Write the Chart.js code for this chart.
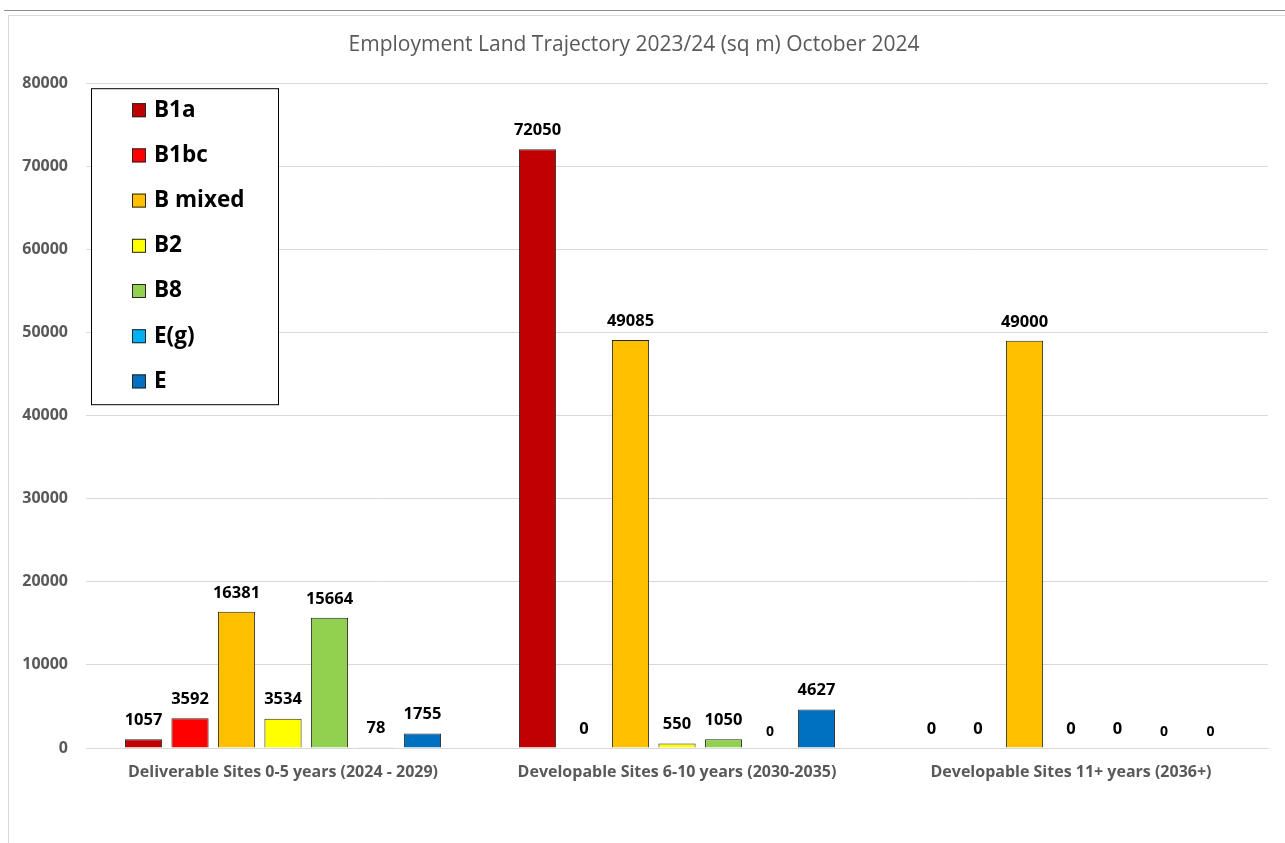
<!DOCTYPE html>
<html>
<head>
<meta charset="utf-8">
<script src="https://cdn.jsdelivr.net/npm/chart.js@4.4.1/dist/chart.umd.min.js"></script>
<style>
  html, body { margin: 0; padding: 0; background: #ffffff; width: 1285px; height: 843px; overflow: hidden; }
  #topline { position: absolute; left: 4px; top: 10px; width: 1281px; height: 0; border-top: 1px solid #8c8c8c; }
  #frame { position: absolute; left: 8px; top: 15px; width: 1290px; height: 840px; border: 1px solid #d9d9d9; box-sizing: border-box; }
  #wrap { position: absolute; left: 0; top: 0; width: 1285px; height: 843px; }
</style>
</head>
<body>
<div id="topline"></div>
<div id="frame"></div>
<div id="wrap"><canvas id="c" width="1285" height="843"></canvas></div>
<script>
const categories = [
  'Deliverable Sites 0-5 years (2024 - 2029)',
  'Developable Sites 6-10 years (2030-2035)',
  'Developable Sites 11+ years (2036+)'
];
const seriesNames = ['B1a', 'B1bc', 'B mixed', 'B2', 'B8', 'E(g)', 'E'];
const b1a    = [1057, 72050, 0];
const b1bc   = [3592, 0, 0];
const bMixed = [16381, 49085, 49000];
const b2     = [3534, 550, 0];
const b8     = [15664, 1050, 0];
const eg     = [78, 0, 0];
const e      = [1755, 4627, 0];
const yTicks = [0, 10000, 20000, 30000, 40000, 50000, 60000, 70000, 80000];

const seriesValues = [b1a, b1bc, bMixed, b2, b8, eg, e];
const seriesColors = ['#C00000', '#FF0000', '#FFC000', '#FFFF00', '#92D050', '#00B0F0', '#0070C0'];

const FONT = "'Open Sans', 'Liberation Sans', sans-serif";

const valueLabels = {
  id: 'valueLabels',
  afterDatasetsDraw(chart) {
    const ctx = chart.ctx;
    ctx.save();
    ctx.fillStyle = '#000000';
    ctx.textAlign = 'center';
    ctx.textBaseline = 'middle';
    chart.data.datasets.forEach((ds, di) => {
      const meta = chart.getDatasetMeta(di);
      meta.data.forEach((bar, i) => {
        const v = ds.data[i];
        const small = (v === 0 && di >= 5);
        ctx.font = 'bold ' + (small ? 14 : 16.5) + 'px ' + FONT;
        ctx.fillText(String(v), bar.x, bar.y - (small ? 16 : 19));
      });
    });
    ctx.restore();
  }
};

const boxLegend = {
  id: 'boxLegend',
  afterDatasetsDraw(chart) {
    const ctx = chart.ctx;
    const area = chart.chartArea;
    const x0 = area.left + 5, y0 = area.top + 5, w = 187, h = 316;
    ctx.save();
    ctx.fillStyle = '#ffffff';
    ctx.fillRect(x0, y0, w, h);
    ctx.strokeStyle = '#000000';
    ctx.lineWidth = 1;
    ctx.strokeRect(x0 + 0.5, y0 + 0.5, w, h);
    ctx.font = 'bold 22.5px ' + FONT;
    ctx.textBaseline = 'middle';
    ctx.textAlign = 'left';
    chart.data.datasets.forEach((ds, i) => {
      const cy = y0 + 22 + i * 45.2;
      ctx.fillStyle = ds.backgroundColor;
      ctx.fillRect(x0 + 41, cy - 7, 14, 14);
      ctx.strokeStyle = '#262626';
      ctx.strokeRect(x0 + 41.5, cy - 6.5, 13, 13);
      ctx.fillStyle = '#000000';
      ctx.fillText(ds.label, x0 + 63, cy);
    });
    ctx.restore();
  }
};

const datasets = seriesNames.map((name, i) => ({
  label: name,
  data: seriesValues[i],
  backgroundColor: seriesColors[i],
  borderColor: '#262626',
  borderWidth: 1,
  borderSkipped: 'bottom',
  categoryPercentage: 0.826,
  barPercentage: 0.8
}));

new Chart(document.getElementById('c'), {
  type: 'bar',
  data: { labels: categories, datasets: datasets },
  plugins: [valueLabels, boxLegend],
  options: {
    responsive: false,
    animation: false,
    layout: { padding: { left: 0, right: 17, top: 0, bottom: 0 } },
    plugins: {
      legend: { display: false },
      tooltip: { enabled: false },
      title: {
        display: true,
        text: 'Employment Land Trajectory 2023/24 (sq m) October 2024',
        color: '#595959',
        font: { family: FONT, size: 21, weight: 'normal' },
        padding: { top: 32, bottom: 26 }
      }
    },
    scales: {
      x: {
        grid: { display: false, drawTicks: false },
        border: { display: true, color: '#d9d9d9' },
        ticks: { color: '#595959', font: { family: FONT, size: 16, weight: 'bold' }, padding: 15, maxRotation: 0 },
        afterFit(scale) { scale.height = 95; }
      },
      y: {
        min: 0, max: 80000,
        afterBuildTicks(scale) { scale.ticks = yTicks.map(v => ({ value: v })); },
        grid: { color: '#d9d9d9', drawTicks: false },
        border: { display: false },
        ticks: {
          color: '#595959',
          font: { family: FONT, size: 16, weight: 'bold' },
          padding: 18,
          callback: (v) => String(v)
        },
        afterFit(scale) { scale.width = 86; }
      }
    }
  }
});
</script>
</body>
</html>
